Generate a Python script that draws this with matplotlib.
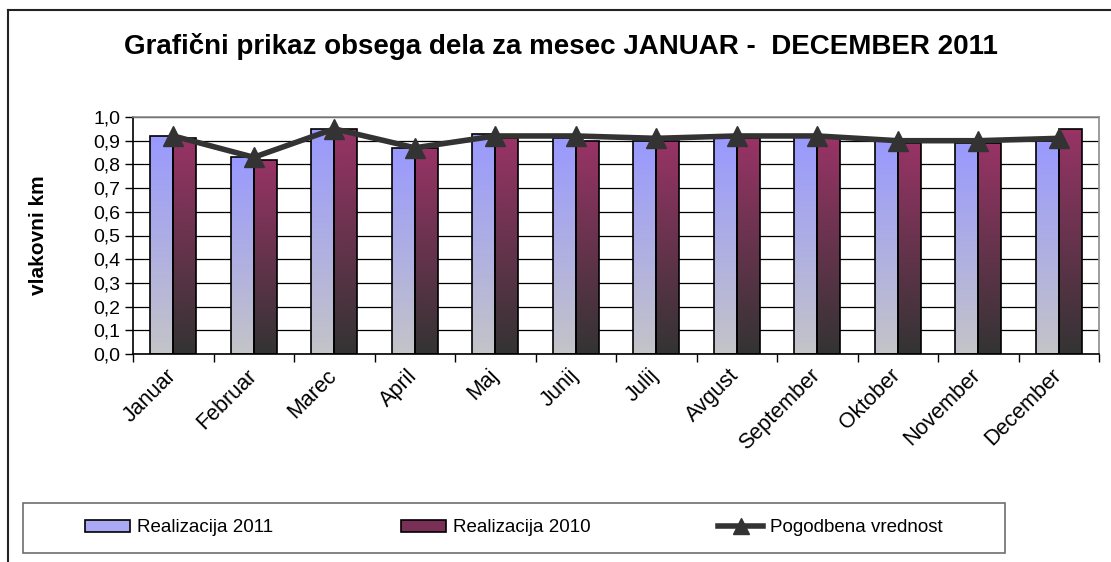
import numpy as np
import matplotlib
matplotlib.use("Agg")
import matplotlib.pyplot as plt
import matplotlib.transforms as mtransforms
from matplotlib.colors import LinearSegmentedColormap
from matplotlib.patches import Patch, Rectangle
from matplotlib.lines import Line2D
from matplotlib.ticker import FixedLocator, FuncFormatter

plt.rcParams['font.family'] = ['Liberation Sans', 'DejaVu Sans']

months = ['Januar', 'Februar', 'Marec', 'April', 'Maj', 'Junij',
          'Julij', 'Avgust', 'September', 'Oktober', 'November', 'December']
real_2011 = [0.92, 0.83, 0.95, 0.87, 0.93, 0.91, 0.90, 0.91, 0.92, 0.90, 0.89, 0.90]
real_2010 = [0.91, 0.82, 0.95, 0.87, 0.91, 0.90, 0.90, 0.91, 0.91, 0.89, 0.89, 0.95]
pogodbena = [0.92, 0.83, 0.95, 0.87, 0.92, 0.92, 0.91, 0.92, 0.92, 0.90, 0.90, 0.91]

# vertical fills: bottom colour -> top colour
cmap_2011 = LinearSegmentedColormap.from_list('r2011', ['#C4C4C8', '#9999FF'])
cmap_2010 = LinearSegmentedColormap.from_list('r2010', ['#333333', '#993366'])


def gradient_bars(ax, x, heights, width, cmap):
    bars = ax.bar(x, heights, width, facecolor='none', edgecolor='black',
                  linewidth=1.2, zorder=3)
    grad = np.linspace(1, 0, 256).reshape(-1, 1)
    for b in bars:
        x0, w, h = b.get_x(), b.get_width(), b.get_height()
        im = ax.imshow(grad, extent=[x0, x0 + w, 0, h], cmap=cmap,
                       aspect='auto', zorder=2, interpolation='bilinear')
        im.set_clip_path(b)
    return bars


fig = plt.figure(figsize=(11.11, 5.62), dpi=100)
ax = fig.add_axes([133 / 1111, 1 - 354 / 562, 966 / 1111, 237 / 562])

x = np.arange(len(months))
w = 0.285
gradient_bars(ax, x - w / 2, real_2011, w, cmap_2011)
gradient_bars(ax, x + w / 2, real_2010, w, cmap_2010)
ax.plot(x, pogodbena, color='#333333', lw=4, marker='^', markersize=15,
        zorder=5, solid_joinstyle='round')

ax.set_xlim(-0.5, len(months) - 0.5)
ax.set_ylim(0, 1.0)
ax.set_yticks(np.arange(0, 1.01, 0.1))
ax.yaxis.set_major_formatter(FuncFormatter(lambda v, p: f'{v:.1f}'.replace('.', ',')))
ax.grid(axis='y', color='black', lw=0.9, zorder=0)

ax.set_xticks(x)
ax.set_xticklabels(months, rotation=45, ha='right', va='top', fontsize=15.5)
ax.tick_params(axis='x', which='major', length=0, pad=8)
# nudge the slanted month names a little to the right
shift = mtransforms.ScaledTranslation(7 / 100, 0, fig.dpi_scale_trans)
for lbl in ax.get_xticklabels():
    lbl.set_transform(lbl.get_transform() + shift)
ax.xaxis.set_minor_locator(FixedLocator(np.arange(-0.5, len(months), 1)))
ax.tick_params(axis='x', which='minor', length=6, direction='out', width=1)
ax.tick_params(axis='y', length=6, direction='out', width=1, labelsize=14, pad=3)

for side in ['top', 'right']:
    ax.spines[side].set_color('#8c8c8c')
    ax.spines[side].set_linewidth(1.2)
for side in ['left', 'bottom']:
    ax.spines[side].set_linewidth(1.2)

ax.set_ylabel('vlakovni km', fontsize=15, fontweight='bold')
ax.yaxis.set_label_coords(-85 / 966, 0.5)

fig.text(0.505, 1 - 46 / 562, 'Grafični prikaz obsega dela za mesec JANUAR -  DECEMBER 2011',
         ha='center', va='center', fontsize=20, fontweight='bold')

# outer chart frame
fig.add_artist(Line2D([8 / 1111, 1.0], [1 - 10 / 562] * 2, color='#222222', lw=1.5,
                      transform=fig.transFigure))
fig.add_artist(Line2D([8 / 1111] * 2, [0, 1 - 10 / 562], color='#222222', lw=1.5,
                      transform=fig.transFigure))

# legend box
fig.add_artist(Rectangle((23 / 1111, 1 - 553 / 562), 982 / 1111, 50 / 562,
                         transform=fig.transFigure, fill=False,
                         edgecolor='#6e6e6e', lw=1.2))
handles = [Patch(facecolor='#A9A9F4', edgecolor='black', lw=1.2),
           Patch(facecolor='#7A2F56', edgecolor='black', lw=1.2),
           Line2D([], [], color='#333333', lw=4, marker='^', markersize=12)]
fig.legend(handles, ['Realizacija 2011', 'Realizacija 2010', 'Pogodbena vrednost'],
           loc='center', bbox_to_anchor=(514 / 1111, 1 - 528 / 562), ncol=3,
           frameon=False, fontsize=13.5, handlelength=2.4, handleheight=0.55,
           handletextpad=0.37, columnspacing=6.8)

fig.savefig('out.png', dpi=100)
